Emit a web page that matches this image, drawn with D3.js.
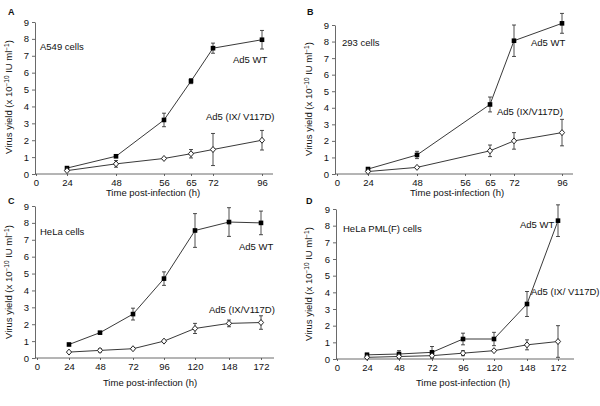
<!DOCTYPE html>
<html><head><meta charset="utf-8">
<script src="https://cdn.jsdelivr.net/npm/d3@7"></script>
<style>body{margin:0;background:#fff} text{font-family:"Liberation Sans",Arial,sans-serif;fill:#111}</style>
</head><body>
<svg id="c" width="600" height="406"></svg>
<script>
// ---- data ----
const xTicksAB = [0, 24, 48, 56, 65, 72, 96];
const xTicksCD = [0, 24, 48, 72, 96, 120, 148, 172];
const yTicks = [0, 1, 2, 3, 4, 5, 6, 7, 8, 9];

const timeA = [24, 48, 56, 65, 72, 96];
const wtA = [0.35, 1.05, 3.2, 5.5, 7.45, 7.95];
const wtErrA = [0.05, 0.08, 0.4, 0.15, 0.3, 0.55];
const mutA = [0.2, 0.6, 0.92, 1.2, 1.45, 2.0];
const mutErrA = [0.05, 0.2, 0.05, 0.25, 0.95, 0.58];

const timeB = [24, 48, 65, 72, 96];
const wtB = [0.3, 1.15, 4.2, 8.05, 9.1];
const wtErrB = [0.05, 0.22, 0.45, 0.95, 0.6];
const mutB = [0.15, 0.4, 1.4, 2.0, 2.5];
const mutErrB = [0.03, 0.05, 0.35, 0.5, 0.8];

const timeC = [24, 48, 72, 96, 120, 148, 172];
const wtC = [0.8, 1.5, 2.6, 4.7, 7.55, 8.05, 8.0];
const wtErrC = [0.05, 0.05, 0.35, 0.4, 1.0, 0.85, 0.7];
const mutC = [0.35, 0.45, 0.55, 1.0, 1.75, 2.05, 2.1];
const mutErrC = [0.03, 0.1, 0.05, 0.05, 0.3, 0.2, 0.4];

const timeD = [24, 48, 72, 96, 120, 148, 172];
const wtD = [0.25, 0.3, 0.4, 1.2, 1.2, 3.3, 8.3];
const wtErrD = [0.1, 0.2, 0.35, 0.35, 0.4, 0.75, 0.95];
const mutD = [0.1, 0.15, 0.2, 0.35, 0.5, 0.85, 1.05];
const mutErrD = [0.03, 0.1, 0.1, 0.15, 0.05, 0.3, 0.95];

const cellLabels = ["A549 cells", "293 cells", "HeLa cells", "HeLa PML(F) cells"];
const panelLetters = ["A", "B", "C", "D"];
const wtLabel = "Ad5 WT";
const mutLabels = ["Ad5 (IX/ V117D)", "Ad5 (IX/V117D)", "Ad5 (IX/V117D)", "Ad5 (IX/ V117D)"];

// ---- layout ----
const svg = d3.select("#c");
const panels = [
  {ox: 0, ticks: xTicksAB, xr: [36, 67, 116, 164, 191, 213, 262], axX: 35, axEnd: 273, y0: 174, y9: 22,
   t: timeA, wt: wtA, we: wtErrA, mu: mutA, me: mutErrA,
   letter: [8, 15], cell: [40, 50], wtPos: [233, 63], muPos: [206, 120], xt: [153, 196], yt: [12, 97]},
  {ox: 300, ticks: xTicksAB, xr: [37, 68, 117, 165, 190, 214, 262], axX: 35, axEnd: 273, y0: 174, y9: 25,
   t: timeB, wt: wtB, we: wtErrB, mu: mutB, me: mutErrB,
   letter: [7, 15], cell: [42, 46], wtPos: [231, 46], muPos: [197, 115], xt: [157, 196], yt: [12, 99]},
  {ox: 0, ticks: xTicksCD, xr: [37, 69, 100, 133, 164, 195, 229, 261], axX: 35, axEnd: 274, y0: 358, y9: 206,
   t: timeC, wt: wtC, we: wtErrC, mu: mutC, me: mutErrC,
   letter: [8, 204], cell: [40, 235], wtPos: [239, 250], muPos: [209, 313], xt: [150, 386], yt: [12, 282]},
  {ox: 300, ticks: xTicksCD, xr: [37, 67, 99, 132, 163, 194, 227, 258], axX: 36, axEnd: 274, y0: 359, y9: 209,
   t: timeD, wt: wtD, we: wtErrD, mu: mutD, me: mutErrD,
   letter: [6, 204], cell: [43, 232], wtPos: [220, 228], muPos: [231, 295], xt: [163, 386], yt: [12, 284]}
];

panels.forEach((p, i) => {
  const g = svg.append("g").attr("transform", `translate(${p.ox},0)`);
  const x = d3.scaleLinear().domain(p.ticks).range(p.xr);
  const y = d3.scaleLinear().domain([0, 9]).range([p.y0, p.y9]);

  // y axis
  const ya = g.append("g").attr("transform", `translate(${p.axX},0)`)
    .call(d3.axisLeft(y).tickValues(yTicks).tickSize(3).tickSizeOuter(0).tickPadding(3));
  ya.selectAll("path,line").attr("stroke", "#444").attr("stroke-width", 0.8);
  ya.selectAll("text").attr("font-size", 9.5).style("font-family", '"Liberation Sans",Arial,sans-serif');

  // x axis
  const xa = g.append("g").attr("transform", `translate(0,${p.y0})`)
    .call(d3.axisBottom(x).tickValues(p.ticks).tickSize(2).tickPadding(3).tickFormat(d3.format("d")));
  xa.select(".domain").remove();
  xa.selectAll("line").attr("stroke", "#444").attr("stroke-width", 0.8);
  xa.selectAll("text").attr("font-size", 9.5).style("font-family", '"Liberation Sans",Arial,sans-serif');
  g.append("line").attr("x1", p.axX).attr("x2", p.axEnd).attr("y1", p.y0).attr("y2", p.y0)
    .attr("stroke", "#444").attr("stroke-width", 0.8);

  const line = d3.line().x(d => x(d[0])).y(d => y(d[1]));
  const series = [
    {vals: p.wt, err: p.we, type: "wt"},
    {vals: p.mu, err: p.me, type: "mu"}
  ];
  series.forEach(s => {
    const pts = p.t.map((t, k) => [t, s.vals[k], s.err[k]]);
    g.append("path").attr("d", line(pts)).attr("fill", "none").attr("stroke", "#222").attr("stroke-width", 0.9);
    // error bars
    const eb = g.append("g").attr("stroke", "#222").attr("stroke-width", 0.8);
    pts.forEach(d => {
      const cx = x(d[0]), top = y(d[1] + d[2]), bot = y(Math.max(0, d[1] - d[2]));
      eb.append("line").attr("x1", cx).attr("x2", cx).attr("y1", top).attr("y2", bot);
      eb.append("line").attr("x1", cx - 2).attr("x2", cx + 2).attr("y1", top).attr("y2", top);
      eb.append("line").attr("x1", cx - 2).attr("x2", cx + 2).attr("y1", bot).attr("y2", bot);
    });
    // markers
    pts.forEach(d => {
      const cx = x(d[0]), cy = y(d[1]);
      if (s.type === "wt") {
        g.append("rect").attr("x", cx - 2.3).attr("y", cy - 2.3).attr("width", 4.6).attr("height", 4.6).attr("fill", "#000");
      } else {
        g.append("path").attr("d", `M${cx},${cy - 3}L${cx + 2.6},${cy}L${cx},${cy + 3}L${cx - 2.6},${cy}Z`)
          .attr("fill", "#fff").attr("stroke", "#111").attr("stroke-width", 0.9);
      }
    });
  });

  // texts
  g.append("text").attr("x", p.letter[0]).attr("y", p.letter[1]).attr("font-size", 9).attr("font-weight", "bold").text(panelLetters[i]);
  g.append("text").attr("x", p.cell[0]).attr("y", p.cell[1]).attr("font-size", 9.5).text(cellLabels[i]);
  g.append("text").attr("x", p.wtPos[0]).attr("y", p.wtPos[1]).attr("font-size", 9.5).text(wtLabel);
  g.append("text").attr("x", p.muPos[0]).attr("y", p.muPos[1]).attr("font-size", 9.5).text(mutLabels[i]);
  g.append("text").attr("x", p.xt[0]).attr("y", p.xt[1]).attr("font-size", 9.5).attr("text-anchor", "middle").text("Time post-infection (h)");
  const yt = g.append("text").attr("transform", `translate(${p.yt[0]},${p.yt[1]}) rotate(-90)`)
    .attr("font-size", 9.5).attr("text-anchor", "middle");
  yt.append("tspan").text("Virus yield (x 10");
  yt.append("tspan").attr("font-size", 6.5).attr("dy", -3.5).text("\u221210");
  yt.append("tspan").attr("dy", 3.5).text(" IU ml");
  yt.append("tspan").attr("font-size", 6.5).attr("dy", -3.5).text("\u22121");
  yt.append("tspan").attr("dy", 3.5).text(")");
});
</script>
</body></html>
